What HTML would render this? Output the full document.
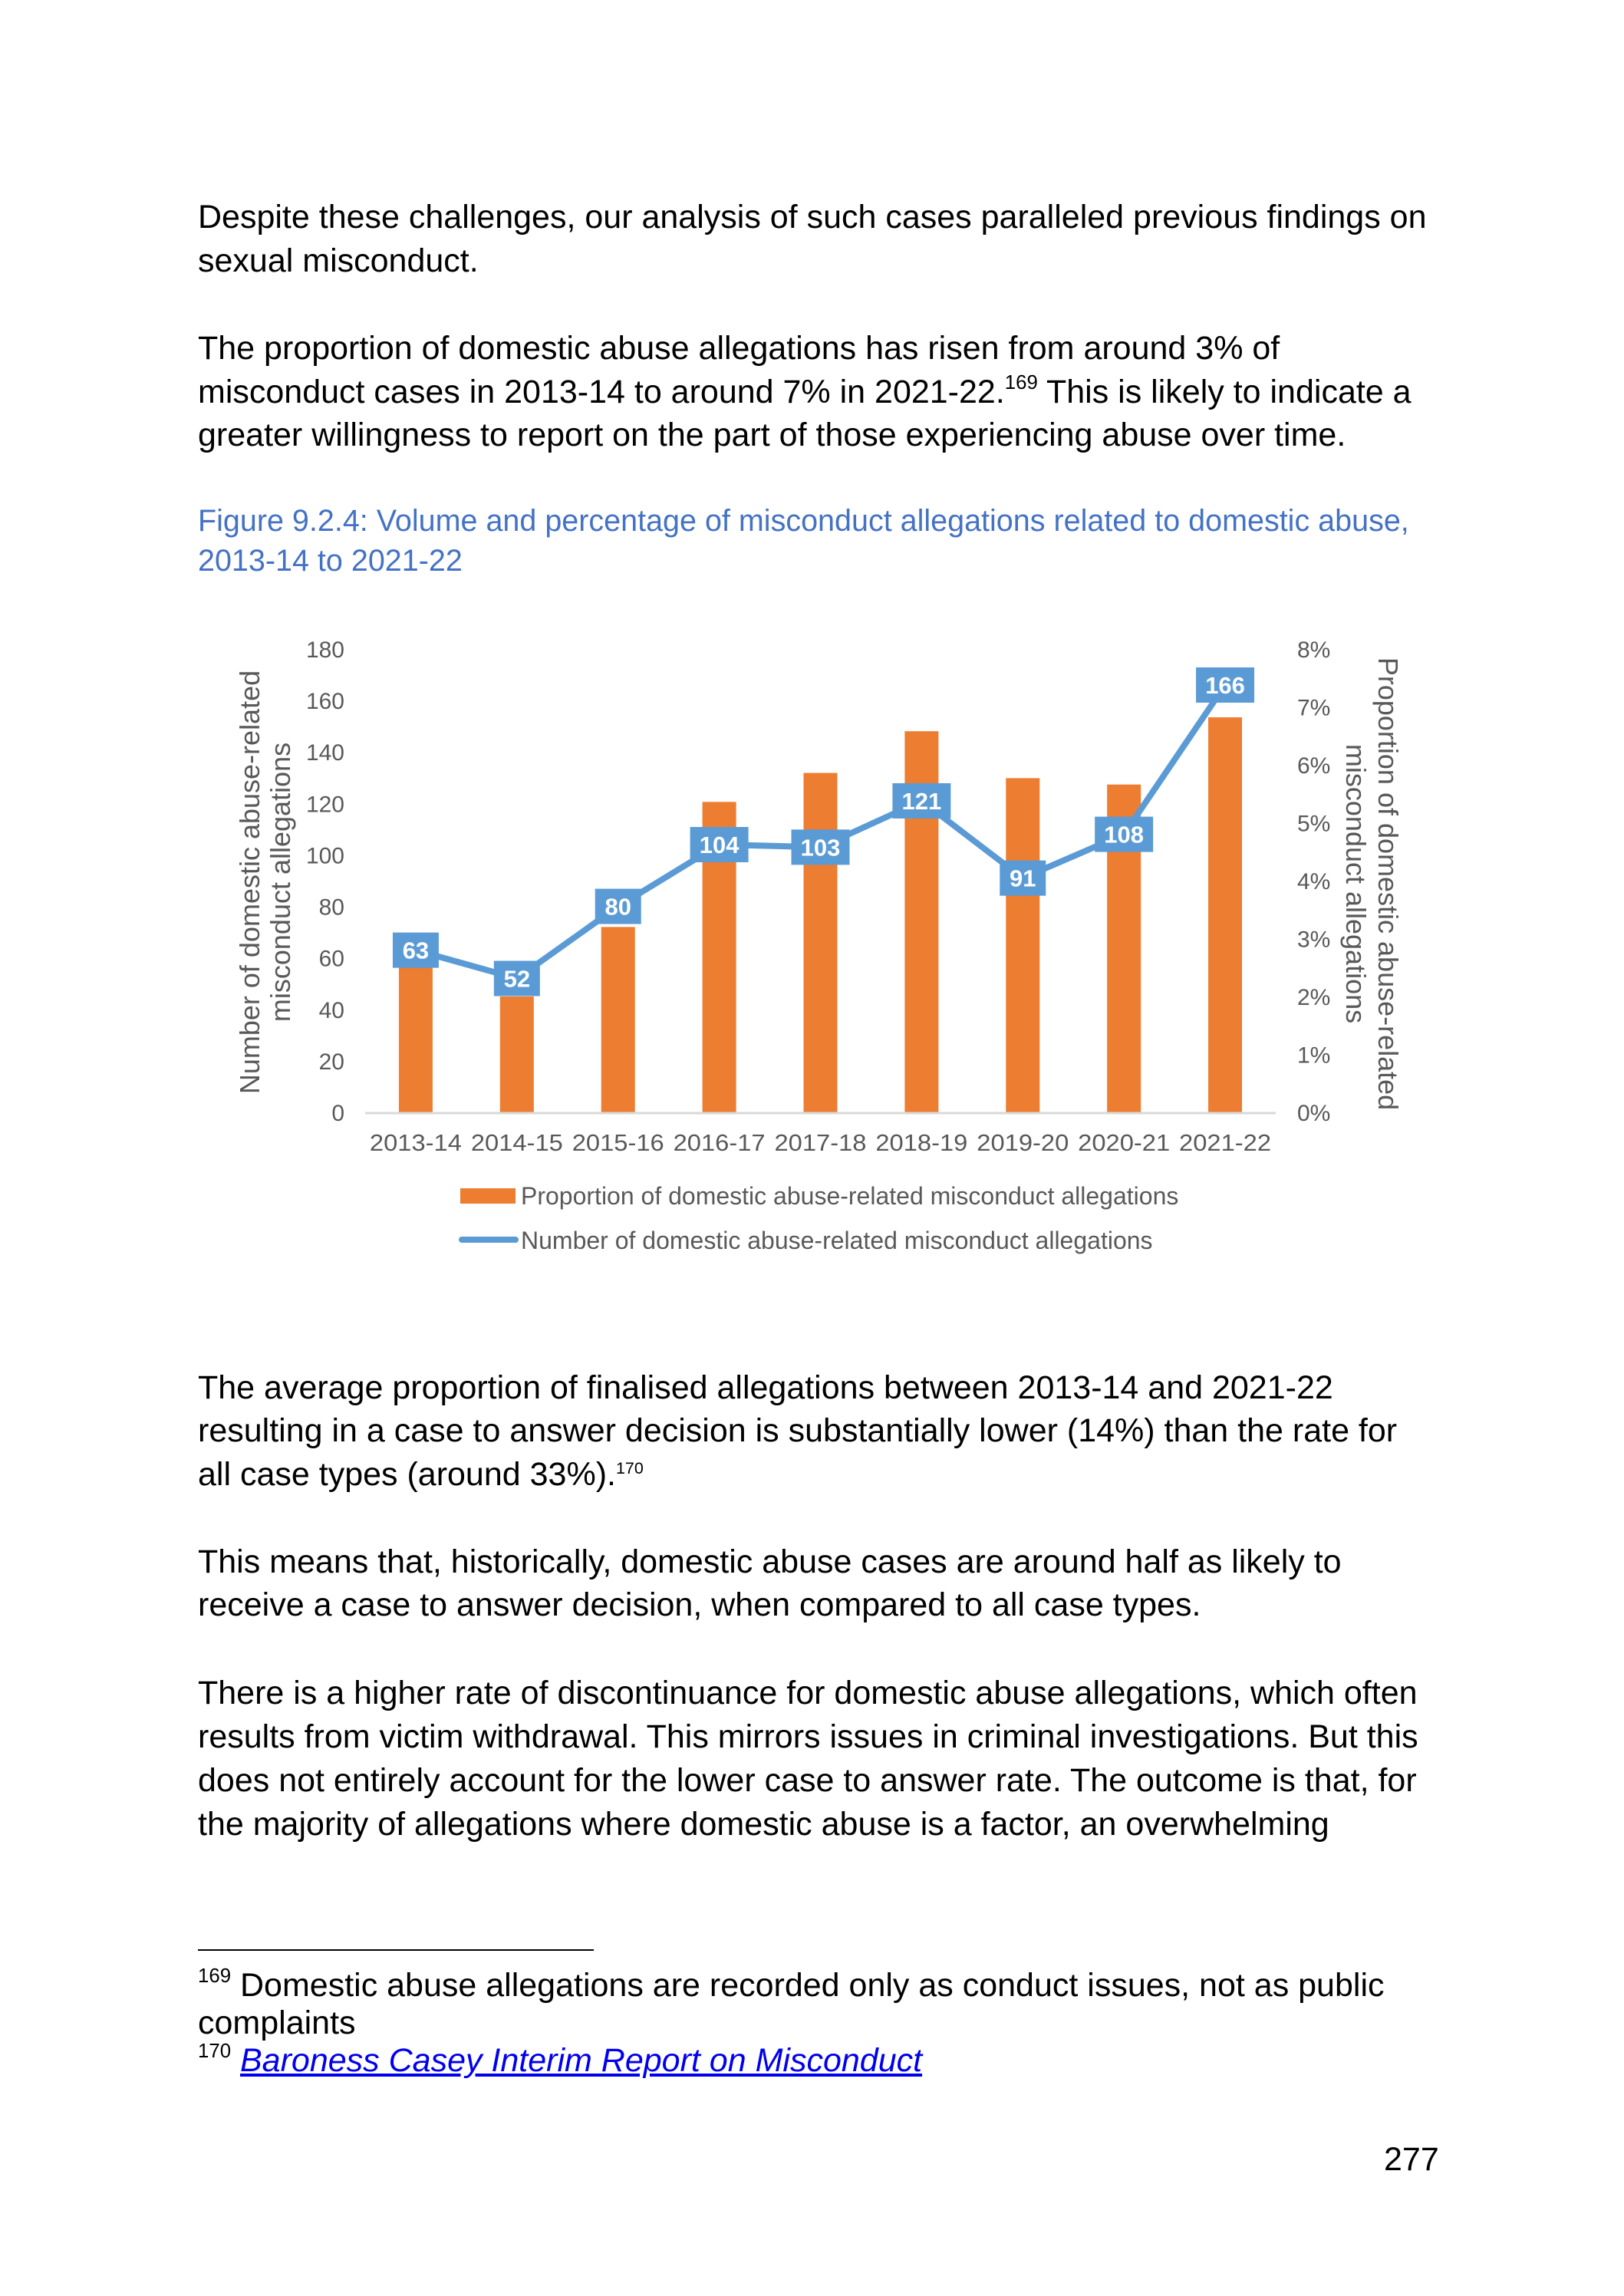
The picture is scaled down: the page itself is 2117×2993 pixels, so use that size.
<!DOCTYPE html>
<html><head><meta charset="utf-8"><style>
html,body{margin:0;padding:0;background:#fff;}
body{width:2117px;height:2993px;position:relative;overflow:hidden;font-family:"Liberation Sans",Arial,sans-serif;}
.t{position:absolute;left:258px;white-space:nowrap;font-size:43px;line-height:43px;color:#000;}
.c{color:#4472c4;font-size:39.5px;line-height:39.5px;}
.f{font-size:43px;line-height:43px;}
sup{font-size:0.6em;vertical-align:0;position:relative;top:-0.7em;}
</style></head><body>
<div class="t" style="top:262px">Despite these challenges, our analysis of such cases paralleled previous findings on</div>
<div class="t" style="top:319px">sexual misconduct.</div>
<div class="t" style="top:433px">The proportion of domestic abuse allegations has risen from around 3% of</div>
<div class="t" style="top:490px">misconduct cases in 2013-14 to around 7% in 2021-22.<sup>169</sup> This is likely to indicate a</div>
<div class="t" style="top:546px">greater willingness to report on the part of those experiencing abuse over time.</div>
<div class="t c" style="top:660px">Figure 9.2.4: Volume and percentage of misconduct allegations related to domestic abuse,</div>
<div class="t c" style="top:712px">2013-14 to 2021-22</div>

<svg id="chart" width="2117" height="1700" style="position:absolute;left:0;top:0" xmlns="http://www.w3.org/2000/svg"></svg>

<div class="t" style="top:1788px">The average proportion of finalised allegations between 2013-14 and 2021-22</div>
<div class="t" style="top:1844px">resulting in a case to answer decision is substantially lower (14%) than the rate for</div>
<div class="t" style="top:1901px">all case types (around 33%).<sup style="font-size:0.5em">170</sup></div>
<div class="t" style="top:2015px">This means that, historically, domestic abuse cases are around half as likely to</div>
<div class="t" style="top:2071px">receive a case to answer decision, when compared to all case types.</div>
<div class="t" style="top:2186px">There is a higher rate of discontinuance for domestic abuse allegations, which often</div>
<div class="t" style="top:2243px">results from victim withdrawal. This mirrors issues in criminal investigations. But this</div>
<div class="t" style="top:2300px">does not entirely account for the lower case to answer rate. The outcome is that, for</div>
<div class="t" style="top:2357px">the majority of allegations where domestic abuse is a factor, an overwhelming</div>
<div style="position:absolute;left:258px;top:2541px;width:516px;height:2px;background:#000"></div>
<div class="t f" style="top:2567px"><sup>169</sup> Domestic abuse allegations are recorded only as conduct issues, not as public</div>
<div class="t f" style="top:2616px">complaints</div>
<div class="t f" style="top:2665px"><sup>170</sup> <span style="color:#0000ee;text-decoration:underline;font-style:italic">Baroness Casey Interim Report on Misconduct</span></div>
<div class="t" style="top:2794px;left:1804px">277</div>

<script>
const categories=["2013-14","2014-15","2015-16","2016-17","2017-18","2018-19","2019-20","2020-21","2021-22"];
const proportionPct=[2.65,2.0,3.2,5.36,5.86,6.58,5.77,5.66,6.82];
const counts=[63,52,80,104,103,121,91,108,166];
const leftTicks=[0,20,40,60,80,100,120,140,160,180];
const rightTicks=[0,1,2,3,4,5,6,7,8];

const NS="http://www.w3.org/2000/svg";
const svg=document.getElementById('chart');
const X0=476,X1=1663,Y0=1450,Y1=846;
const step=(X1-X0)/categories.length;
const xc=i=>X0+step*(i+0.5);
const yL=v=>Y0-(v/180)*(Y0-Y1);
const yR=p=>Y0-(p/8)*(Y0-Y1);
function mk(tag,attrs,txt){const e=document.createElementNS(NS,tag);for(const k in attrs)e.setAttribute(k,attrs[k]);if(txt!=null)e.textContent=txt;svg.appendChild(e);return e;}
const F='"Liberation Sans",Arial,sans-serif';

leftTicks.forEach(v=>{const e=mk('text',{x:449,y:yL(v)+11,'text-anchor':'end','font-size':30,fill:'#595959','font-family':F},v);

});
rightTicks.forEach(p=>{const e=mk('text',{x:1691,y:yR(p)+11,'font-size':30,fill:'#595959','font-family':F},p+'%');

});

proportionPct.forEach((p,i)=>{const e=mk('rect',{x:xc(i)-22,y:yR(p),width:44,height:Y0-yR(p),fill:'#ed7d31'});

});

const ax=mk('line',{x1:X0,x2:X1,y1:Y0+1,y2:Y0+1,stroke:'#d9d9d9','stroke-width':3});



categories.forEach((c,i)=>{const e=mk('text',{x:xc(i),y:1500,'text-anchor':'middle','font-size':31,fill:'#595959','font-family':F,textLength:120,lengthAdjust:'spacingAndGlyphs'},c);

});

const pl=mk('polyline',{points:counts.map((v,i)=>xc(i)+','+yL(v)).join(' '),fill:'none',stroke:'#5b9bd5','stroke-width':8,'stroke-linejoin':'round'});



counts.forEach((v,i)=>{const w=String(v).length>2?76:60;
const r=mk('rect',{x:xc(i)-w/2,y:yL(v)-23,width:w,height:46,fill:'#5b9bd5'});


const t=mk('text',{x:xc(i),y:yL(v)+11,'text-anchor':'middle','font-size':31,'font-weight':'bold',fill:'#fff','font-family':F},v);

});

const lt=mk('text',{transform:'translate(338,1150) rotate(-90)','text-anchor':'middle','font-size':36,fill:'#595959','font-family':F},'Number of domestic abuse-related');


const lt2=mk('text',{transform:'translate(378,1150) rotate(-90)','text-anchor':'middle','font-size':36,fill:'#595959','font-family':F},'misconduct allegations');


const rt=mk('text',{transform:'translate(1797,1152) rotate(90)','text-anchor':'middle','font-size':36,fill:'#595959','font-family':F},'Proportion of domestic abuse-related');


const rt2=mk('text',{transform:'translate(1755,1152) rotate(90)','text-anchor':'middle','font-size':36,fill:'#595959','font-family':F},'misconduct allegations');



const ls=mk('rect',{x:600,y:1549,width:72,height:20,fill:'#ed7d31'});


const lx=mk('text',{x:679,y:1570,'font-size':32,fill:'#595959','font-family':F},'Proportion of domestic abuse-related misconduct allegations');


const ll=mk('line',{x1:602,x2:672,y1:1616,y2:1616,stroke:'#5b9bd5','stroke-width':8,'stroke-linecap':'round'});


const lx2=mk('text',{x:679,y:1628,'font-size':32,fill:'#595959','font-family':F},'Number of domestic abuse-related misconduct allegations');


</script>
</body></html>
